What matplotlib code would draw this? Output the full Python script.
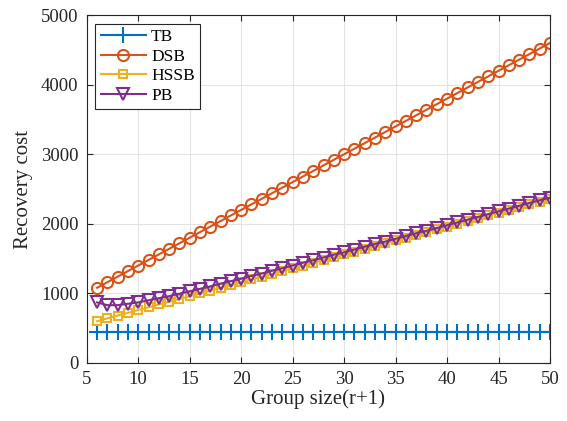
import numpy as np
import matplotlib.pyplot as plt

plt.rcParams['font.family'] = ['Liberation Serif', 'DejaVu Serif']
plt.rcParams['mathtext.fontset'] = 'stix'

group_size = list(range(6, 51))

tb_cost = [440] * 45

dsb_cost = [1080, 1160, 1240, 1320, 1400, 1480, 1560, 1640, 1720, 1800,
            1880, 1960, 2040, 2120, 2200, 2280, 2360, 2440, 2520, 2600,
            2680, 2760, 2840, 2920, 3000, 3080, 3160, 3240, 3320, 3400,
            3480, 3560, 3640, 3720, 3800, 3880, 3960, 4040, 4120, 4200,
            4280, 4360, 4440, 4520, 4600]

hssb_cost = [600, 640, 680, 720, 760, 800, 840, 880, 920, 960,
             1000, 1040, 1080, 1120, 1160, 1200, 1240, 1280, 1320, 1360,
             1400, 1440, 1480, 1520, 1560, 1600, 1640, 1680, 1720, 1760,
             1800, 1840, 1880, 1920, 1960, 2000, 2040, 2080, 2120, 2160,
             2200, 2240, 2280, 2320, 2360]

pb_cost = [870, 830, 830, 850, 870, 900, 930, 960, 995, 1030,
           1065, 1100, 1140, 1175, 1210, 1250, 1285, 1325, 1360, 1400,
           1440, 1475, 1515, 1555, 1590, 1630, 1670, 1710, 1745, 1785,
           1825, 1865, 1900, 1940, 1980, 2020, 2060, 2100, 2140, 2180,
           2220, 2260, 2300, 2340, 2375]

fig = plt.figure(figsize=(5.67, 4.21), dpi=100)
ax = fig.add_axes([0.153, 0.138, 0.817, 0.826])

ax.plot(group_size, tb_cost, color='#0072BD', marker='+', markersize=11,
        markeredgewidth=1.5, linewidth=1.5, label='TB')
ax.plot(group_size, dsb_cost, color='#D95319', marker='o', markersize=8,
        markerfacecolor='none', markeredgewidth=1.5, linewidth=1.5, label='DSB')
ax.plot(group_size, hssb_cost, color='#EDB120', marker='s', markersize=6,
        markerfacecolor='none', markeredgewidth=1.5, linewidth=1.5, label='HSSB')
ax.plot(group_size, pb_cost, color='#7E2F8E', marker='v', markersize=9,
        markerfacecolor='none', markeredgewidth=1.5, linewidth=1.5, label='PB')

ax.set_xlim(5, 50)
ax.set_ylim(0, 5000)
ax.set_xticks(np.arange(5, 51, 5))
ax.set_yticks(np.arange(0, 5001, 1000))
ax.tick_params(direction='in', labelsize=13.5, length=4, width=0.8, pad=6,
               top=True, right=True, colors='#262626')
ax.grid(True, color='#e3e3e3', linewidth=0.8)
ax.set_axisbelow(True)
for s in ax.spines.values():
    s.set_color('#262626')
    s.set_linewidth(0.8)

ax.set_xlabel('Group size(r+1)', fontsize=15, color='#262626', labelpad=1)
ax.set_ylabel('Recovery cost', fontsize=15, color='#262626', labelpad=6)

leg = ax.legend(loc='upper left', fontsize=12.5, fancybox=False, framealpha=1,
                edgecolor='#262626', borderaxespad=0.5, handlelength=2.6,
                labelspacing=0.2, borderpad=0.3, handletextpad=0.3)
leg.get_frame().set_linewidth(0.8)

fig.savefig('out.png', dpi=100)
